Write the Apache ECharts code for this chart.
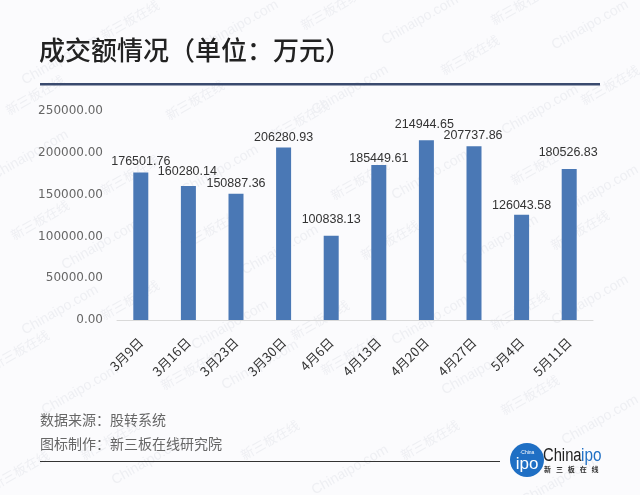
<!DOCTYPE html>
<html><head><meta charset="utf-8">
<style>html,body{margin:0;padding:0;background:#fbfbfd}#c{width:640px;height:495px}</style>
<script src="https://cdn.jsdelivr.net/npm/echarts@6/dist/echarts.min.js"></script>
</head><body><div id="c"></div>
<script>
const categories = ['3月9日','3月16日','3月23日','3月30日','4月6日','4月13日','4月20日','4月27日','5月4日','5月11日'];
const values = [176501.76,160280.14,150887.36,206280.93,100838.13,185449.61,214944.65,207737.86,126043.58,180526.83];
const titleText = '成交额情况（单位：万元）';
const sourceLines = ['数据来源：股转系统','图标制作：新三板在线研究院'];
const labelShift = [[0,1],[-1,-3],[0,1],[0,1],[0,-5],[0,5],[-2,-4],[-1,1],[0,2],[-1,-5]];
const F = '"Noto Sans CJK SC","Liberation Sans",sans-serif';
const wmA = [[60,60],[240,25],[420,20],[590,25],[350,90],[540,110],[30,155],[220,170],[430,175],[600,190],[100,245],[280,250],[500,240],[60,310],[230,325],[430,320],[590,300],[80,390],[260,365],[480,370],[600,420],[150,460],[350,470],[560,480]];
const wmB = [[130,20],[330,10],[520,5],[35,95],[195,100],[300,120],[470,55],[610,85],[130,175],[360,180],[540,165],[40,220],[210,230],[390,240],[580,230],[130,300],[320,320],[520,310],[20,350],[190,370],[350,355],[530,395],[110,440],[270,440],[430,440],[20,470]];
const graphic = [];
wmA.forEach(p=>graphic.push({type:'text',x:p[0],y:p[1],rotation:Math.PI/6,silent:true,z:0,style:{text:'Chinaipo.com',font:'14px "Liberation Sans"',fill:'#eeeff3',align:'center',verticalAlign:'middle'}}));
wmB.forEach(p=>graphic.push({type:'text',x:p[0],y:p[1],rotation:Math.PI/6,silent:true,z:0,style:{text:'新三板在线',font:'13px "Noto Sans CJK SC"',fill:'#eeeff3',align:'center',verticalAlign:'middle'}}));
graphic.push(
 {type:'text',x:39,y:50,z:5,style:{text:titleText,font:'500 26px '+F,fill:'#222',verticalAlign:'middle'}},
 {type:'rect',z:5,shape:{x:40,y:83,width:560,height:2.5},style:{fill:'#3a4a6e'}},
 {type:'text',x:40,y:420,z:5,style:{text:sourceLines[0],font:'14px '+F,fill:'#666',verticalAlign:'middle'}},
 {type:'text',x:40,y:444,z:5,style:{text:sourceLines[1],font:'14px '+F,fill:'#666',verticalAlign:'middle'}},
 {type:'rect',z:5,shape:{x:40,y:461,width:460,height:1},style:{fill:'#333'}},
 {type:'circle',z:5,shape:{cx:527,cy:460,r:17},style:{fill:'#1f6fc4'}},
 {type:'text',x:527,y:453,z:6,style:{text:'·China',font:'5px "Liberation Sans"',fill:'#fff',align:'center',verticalAlign:'middle'}},
 {type:'text',x:527,y:464,z:6,style:{text:'ipo',font:'17px "Liberation Sans"',fill:'#fff',align:'center',verticalAlign:'middle'}},
 {type:'text',x:543,y:456,scaleX:0.82,z:6,style:{text:'China',font:'18px "Liberation Sans"',fill:'#222',verticalAlign:'middle'}},
 {type:'text',x:581,y:456,scaleX:0.85,z:6,style:{text:'ipo',font:'18px "Liberation Sans"',fill:'#1f6fc4',verticalAlign:'middle'}},
 {type:'text',x:544,y:469,z:6,style:{text:'新\u2002\u2009三\u2002\u2009板\u2002\u2009在\u2002\u2009线',font:'bold 7px "Noto Sans CJK SC"',fill:'#333',verticalAlign:'middle'}}
);
const chart = echarts.init(document.getElementById('c'),null,{renderer:'canvas'});
chart.setOption({
 animation:false,
 backgroundColor:'#fbfbfd',
 graphic:{elements:graphic},
 grid:{left:117,right:47,top:111,bottom:175,containLabel:false},
 xAxis:{type:'category',data:categories,
  axisTick:{show:false},
  axisLine:{lineStyle:{color:'#d9d9d9',width:1}},
  axisLabel:{rotate:45,interval:0,fontSize:13,color:'#333',fontFamily:F,margin:20}},
 yAxis:{type:'value',min:0,max:250000,interval:50000,
  axisLine:{show:false},axisTick:{show:false},splitLine:{show:false},
  axisLabel:{color:'#666',fontSize:12,fontFamily:'"DejaVu Sans"',margin:14,
   formatter:v=>v.toFixed(2)}},
 series:[{type:'bar',barWidth:15,z:3,
  data:values.map((v,i)=>({value:v,label:{offset:labelShift[i]}})),
  itemStyle:{color:'#4a78b5'},
  label:{show:true,position:'top',color:'#333',fontSize:12.5,fontFamily:'"Liberation Sans"',
   formatter:p=>p.value.toFixed(2)}}]
});
</script></body></html>
